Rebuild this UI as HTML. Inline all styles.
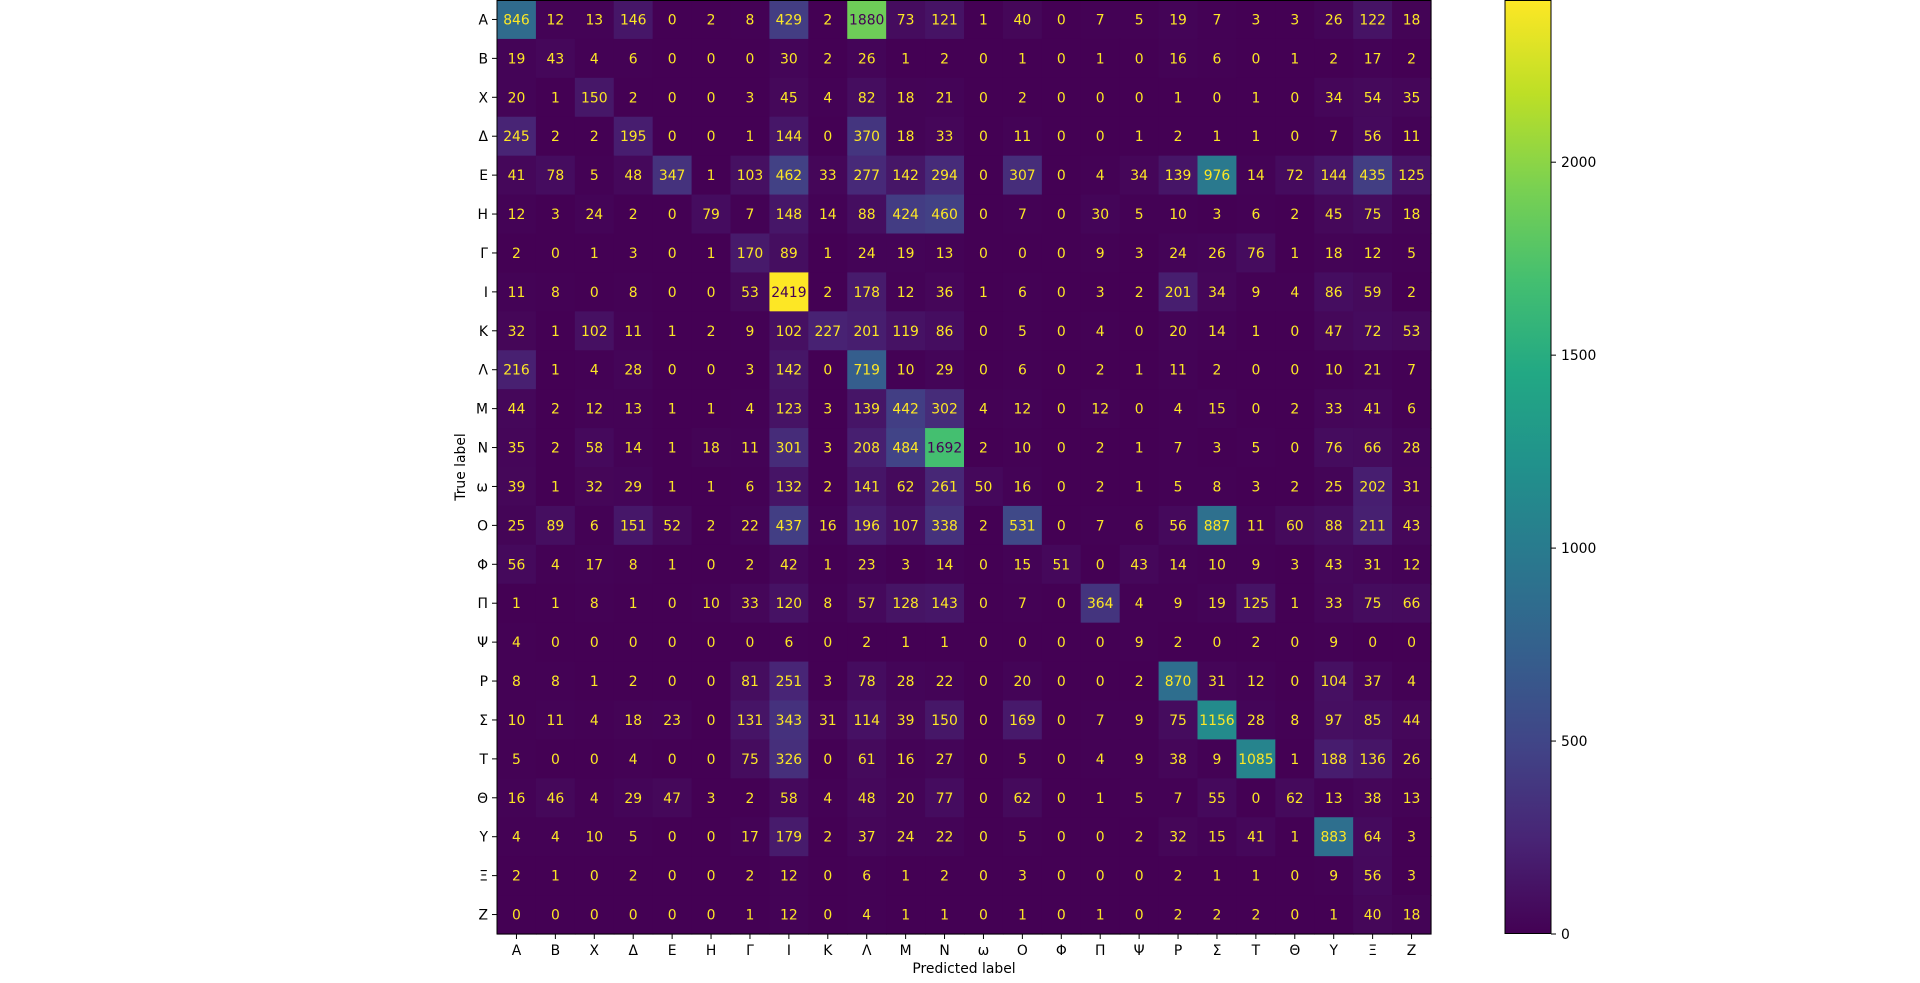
<!DOCTYPE html>
<html><head><meta charset="utf-8"><style>
html,body{margin:0;padding:0;background:#fff;width:1920px;height:983px;overflow:hidden}
svg{display:block;font-family:"DejaVu Sans","Liberation Sans",sans-serif}
</style></head><body>
<svg id="chart" width="1920" height="983" viewBox="0 0 1920 983" xmlns="http://www.w3.org/2000/svg">
<defs><linearGradient id="vir" x1="0" y1="1" x2="0" y2="0">
<stop offset="0" stop-color="#440154"/><stop offset="0.1" stop-color="#482475"/><stop offset="0.2" stop-color="#414487"/><stop offset="0.3" stop-color="#355f8d"/><stop offset="0.4" stop-color="#2a788e"/><stop offset="0.5" stop-color="#21918c"/><stop offset="0.6" stop-color="#22a884"/><stop offset="0.7" stop-color="#44bf70"/><stop offset="0.8" stop-color="#7ad151"/><stop offset="0.9" stop-color="#bddf26"/><stop offset="1" stop-color="#fde725"/>
</linearGradient></defs>
<g id="cells"></g>
<g id="axes"></g>
<text x="964" y="973" font-size="13.9" text-anchor="middle">Predicted label</text>
<text x="0" y="0" font-size="13.9" text-anchor="middle" transform="translate(465,467) rotate(-90)">True label</text>
<rect x="1505" y="0.5" width="46" height="933" fill="url(#vir)" stroke="#000" stroke-width="1"/>
<g id="cbticks"></g>
</svg>
<script>
const labels = ["Α","Β","Χ","Δ","Ε","Η","Γ","Ι","Κ","Λ","Μ","Ν","ω","Ο","Φ","Π","Ψ","Ρ","Σ","Τ","Θ","Υ","Ξ","Ζ"];
const rowA=[846,12,13,146,0,2,8,429,2,1880,73,121,1,40,0,7,5,19,7,3,3,26,122,18];
const rowB=[19,43,4,6,0,0,0,30,2,26,1,2,0,1,0,1,0,16,6,0,1,2,17,2];
const rowX=[20,1,150,2,0,0,3,45,4,82,18,21,0,2,0,0,0,1,0,1,0,34,54,35];
const rowD=[245,2,2,195,0,0,1,144,0,370,18,33,0,11,0,0,1,2,1,1,0,7,56,11];
const rowE=[41,78,5,48,347,1,103,462,33,277,142,294,0,307,0,4,34,139,976,14,72,144,435,125];
const rowH=[12,3,24,2,0,79,7,148,14,88,424,460,0,7,0,30,5,10,3,6,2,45,75,18];
const rowG=[2,0,1,3,0,1,170,89,1,24,19,13,0,0,0,9,3,24,26,76,1,18,12,5];
const rowI=[11,8,0,8,0,0,53,2419,2,178,12,36,1,6,0,3,2,201,34,9,4,86,59,2];
const rowK=[32,1,102,11,1,2,9,102,227,201,119,86,0,5,0,4,0,20,14,1,0,47,72,53];
const rowL=[216,1,4,28,0,0,3,142,0,719,10,29,0,6,0,2,1,11,2,0,0,10,21,7];
const rowM=[44,2,12,13,1,1,4,123,3,139,442,302,4,12,0,12,0,4,15,0,2,33,41,6];
const rowN=[35,2,58,14,1,18,11,301,3,208,484,1692,2,10,0,2,1,7,3,5,0,76,66,28];
const rowW=[39,1,32,29,1,1,6,132,2,141,62,261,50,16,0,2,1,5,8,3,2,25,202,31];
const rowO=[25,89,6,151,52,2,22,437,16,196,107,338,2,531,0,7,6,56,887,11,60,88,211,43];
const rowF=[56,4,17,8,1,0,2,42,1,23,3,14,0,15,51,0,43,14,10,9,3,43,31,12];
const rowP=[1,1,8,1,0,10,33,120,8,57,128,143,0,7,0,364,4,9,19,125,1,33,75,66];
const rowPs=[4,0,0,0,0,0,0,6,0,2,1,1,0,0,0,0,9,2,0,2,0,9,0,0];
const rowR=[8,8,1,2,0,0,81,251,3,78,28,22,0,20,0,0,2,870,31,12,0,104,37,4];
const rowS=[10,11,4,18,23,0,131,343,31,114,39,150,0,169,0,7,9,75,1156,28,8,97,85,44];
const rowT=[5,0,0,4,0,0,75,326,0,61,16,27,0,5,0,4,9,38,9,1085,1,188,136,26];
const rowTh=[16,46,4,29,47,3,2,58,4,48,20,77,0,62,0,1,5,7,55,0,62,13,38,13];
const rowY=[4,4,10,5,0,0,17,179,2,37,24,22,0,5,0,0,2,32,15,41,1,883,64,3];
const rowXi=[2,1,0,2,0,0,2,12,0,6,1,2,0,3,0,0,0,2,1,1,0,9,56,3];
const rowZ=[0,0,0,0,0,0,1,12,0,4,1,1,0,1,0,1,0,2,2,2,0,1,40,18];
const matrix=[rowA,rowB,rowX,rowD,rowE,rowH,rowG,rowI,rowK,rowL,rowM,rowN,rowW,rowO,rowF,rowP,rowPs,rowR,rowS,rowT,rowTh,rowY,rowXi,rowZ];
const cbTicks=[0,500,1000,1500,2000];

const NS="http://www.w3.org/2000/svg";
const X0=497,X1=1431,Y0=0,Y1=934;
const n=labels.length, cw=(X1-X0)/n, ch=(Y1-Y0)/n;
let vmin=Infinity,vmax=-Infinity;
matrix.forEach(r=>r.forEach(v=>{vmin=Math.min(vmin,v);vmax=Math.max(vmax,v);}));
const xPos=i=>X0+i*cw, yPos=j=>Y0+j*ch;
const stops=[[68,1,84],[72,36,117],[65,68,135],[53,95,141],[42,120,142],[33,145,140],[34,168,132],[68,191,112],[122,209,81],[189,223,38],[253,231,37]];
function viridis(t){t=Math.max(0,Math.min(1,t));const p=t*10,i=Math.min(9,Math.floor(p)),f=p-i;const a=stops[i],b=stops[i+1];
return "rgb("+a.map((c,k)=>Math.round(c+(b[k]-c)*f)).join(",")+")";}
function mk(tag,attrs,parent){const e=document.createElementNS(NS,tag);for(const k in attrs)e.setAttribute(k,attrs[k]);parent.appendChild(e);return e;}
const cells=document.getElementById("cells"), axes=document.getElementById("axes");
const thresh=(vmax+vmin)/2;
matrix.forEach((row,j)=>row.forEach((v,i)=>{
  const r=mk("rect",{x:xPos(i),y:yPos(j),width:cw+0.6,height:ch+0.6,fill:viridis((v-vmin)/(vmax-vmin))},cells);
  
  
  const t=mk("text",{x:xPos(i)+cw/2,y:yPos(j)+ch/2+5,"font-size":"13.9","text-anchor":"middle",fill:v>thresh?"#440154":"#fde725"},cells);
  t.textContent=v;
  
  
}));
const frame=mk("rect",{x:X0,y:Y0+0.5,width:X1-X0,height:Y1-Y0-0.5,fill:"none",stroke:"#000","stroke-width":1},axes);


labels.forEach((l,i)=>{
  const cx=xPos(i)+cw/2, cy=yPos(i)+ch/2;
  mk("line",{x1:cx,y1:Y1,x2:cx,y2:Y1+5,stroke:"#000"},axes);
  const tx=mk("text",{x:cx,y:Y1+21,"font-size":"13.9","text-anchor":"middle"},axes);
  tx.textContent=l;
  
  
  mk("line",{x1:X0-5,y1:cy,x2:X0,y2:cy,stroke:"#000"},axes);
  const ty=mk("text",{x:X0-9,y:cy+5,"font-size":"13.9","text-anchor":"end"},axes);
  ty.textContent=l;
  
  
});
const cb=document.getElementById("cbticks");
const CB0=934,CB1=0.5;
cbTicks.forEach(v=>{
  const y=CB0-(v-vmin)/(vmax-vmin)*(CB0-CB1);
  mk("line",{x1:1551,y1:y,x2:1556,y2:y,stroke:"#000"},cb);
  const t=mk("text",{x:1561,y:y+5,"font-size":"13.9"},cb);
  t.textContent=v;
  
  
});
</script>
</body></html>
